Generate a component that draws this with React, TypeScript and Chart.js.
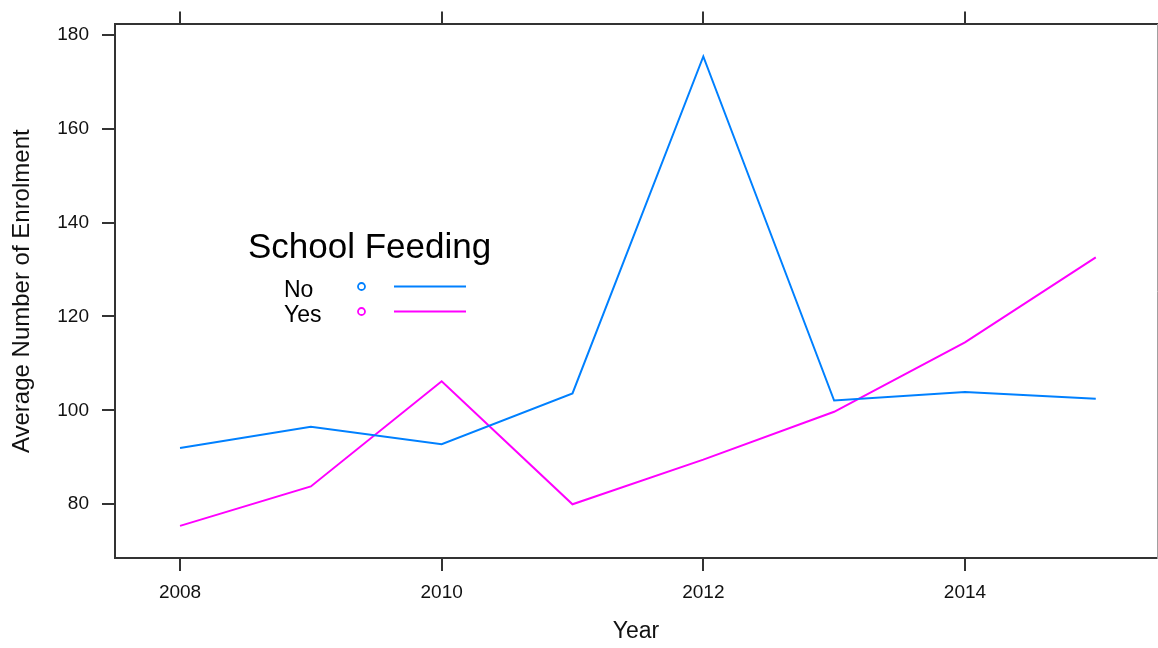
import React, { useEffect, useRef } from "react";
import { Chart, registerables } from "chart.js";

Chart.register(...registerables);

const years = [2008, 2009, 2010, 2011, 2012, 2013, 2014, 2015];
const noValues = [92.0, 96.5, 92.8, 103.6, 175.4, 102.1, 103.9, 102.5];
const yesValues = [75.4, 83.8, 106.2, 80.0, 89.5, 99.7, 114.5, 132.6];
const seriesNames = ["No", "Yes"];
const seriesColors = ["#0080ff", "#ff00ff"];
const xTickValues = [2008, 2010, 2012, 2014];
const yTickValues = [80, 100, 120, 140, 160, 180];
const legendTitle = "School Feeding";
const xTitle = "Year";
const yTitle = "Average Number of Enrolment";

const FONT = "'Liberation Sans', Arial, sans-serif";
const AXIS_COLOR = "#333333";

const legendPlugin = {
  id: "latticeKey",
  afterDraw(chart: any) {
    const ctx = chart.ctx;
    ctx.save();
    ctx.fillStyle = "#000";
    ctx.textBaseline = "alphabetic";
    ctx.textAlign = "left";
    ctx.font = `35px ${FONT}`;
    ctx.fillText(legendTitle, 248, 258);
    const rows = [
      { y: 297, lineY: 286.5 },
      { y: 322, lineY: 311.5 },
    ];
    ctx.font = `23px ${FONT}`;
    chart.data.datasets.forEach((ds: any, i: number) => {
      const r = rows[i];
      ctx.fillStyle = "#000";
      ctx.fillText(ds.label, 284, r.y);
      ctx.strokeStyle = ds.borderColor;
      ctx.lineWidth = 1.8;
      ctx.beginPath();
      ctx.arc(361.5, r.lineY, 3.5, 0, Math.PI * 2);
      ctx.stroke();
      ctx.lineWidth = 2;
      ctx.beginPath();
      ctx.moveTo(394, r.lineY);
      ctx.lineTo(466, r.lineY);
      ctx.stroke();
    });
    ctx.restore();
  },
};

export default function App() {
  const ref = useRef<HTMLCanvasElement>(null);

  useEffect(() => {
    if (!ref.current) return;
    const setTicks = (vals: number[]) => (scale: any) => {
      scale.ticks = vals.map((v) => ({ value: v }));
    };
    const chart = new Chart(ref.current, {
      type: "line",
      data: {
        datasets: [
          {
            label: seriesNames[0],
            data: years.map((x, i) => ({ x, y: noValues[i] })),
            borderColor: seriesColors[0],
            backgroundColor: seriesColors[0],
            borderWidth: 2,
            pointRadius: 0,
            tension: 0,
          },
          {
            label: seriesNames[1],
            data: years.map((x, i) => ({ x, y: yesValues[i] })),
            borderColor: seriesColors[1],
            backgroundColor: seriesColors[1],
            borderWidth: 2,
            pointRadius: 0,
            tension: 0,
          },
        ],
      },
      options: {
        responsive: false,
        animation: false,
        layout: { padding: 0 },
        plugins: {
          legend: { display: false },
          tooltip: { enabled: false },
        },
        scales: {
          x: {
            type: "linear",
            position: "bottom",
            min: 2007.503,
            max: 2015.468,
            afterBuildTicks: setTicks(xTickValues),
            afterFit: (s: any) => {
              s.height = 90;
            },
            grid: {
              drawOnChartArea: false,
              drawTicks: true,
              tickLength: 13,
              tickColor: AXIS_COLOR,
              lineWidth: 2,
            },
            border: { display: true, color: AXIS_COLOR, width: 2 },
            ticks: {
              padding: 10,
              color: "#111",
              font: { family: FONT, size: 19 },
              maxRotation: 0,
              callback: (v: any) => String(v),
            },
            title: {
              display: true,
              text: xTitle,
              color: "#111",
              font: { family: FONT, size: 23 },
              padding: { top: 0, bottom: 3 },
            },
          },
          xTop: {
            type: "linear",
            position: "top",
            min: 2007.503,
            max: 2015.468,
            afterBuildTicks: setTicks(xTickValues),
            afterFit: (s: any) => {
              s.height = 21;
            },
            grid: {
              drawOnChartArea: false,
              drawTicks: true,
              tickLength: 13,
              tickColor: AXIS_COLOR,
              lineWidth: 2,
            },
            border: { display: true, color: AXIS_COLOR, width: 2 },
            ticks: { display: false },
          },
          y: {
            type: "linear",
            position: "left",
            min: 68.55,
            max: 182.23,
            afterBuildTicks: setTicks(yTickValues),
            afterFit: (s: any) => {
              s.width = 115;
            },
            grid: {
              drawOnChartArea: false,
              drawTicks: true,
              tickLength: 13,
              tickColor: AXIS_COLOR,
              lineWidth: 2,
            },
            border: { display: true, color: AXIS_COLOR, width: 2 },
            ticks: {
              padding: 13,
              color: "#111",
              font: { family: FONT, size: 19 },
              callback: (v: any) => String(v),
            },
            title: {
              display: true,
              text: yTitle,
              color: "#111",
              font: { family: FONT, size: 24 },
              padding: { top: 8, bottom: 0 },
            },
          },
          yRight: {
            type: "linear",
            position: "right",
            min: 68.55,
            max: 182.23,
            afterFit: (s: any) => {
              s.width = 1;
            },
            grid: { display: false, drawTicks: false },
            border: { display: true, color: "#a0a0a0", width: 1 },
            ticks: { display: false },
          },
        },
      },
      plugins: [legendPlugin],
    } as any);
    return () => chart.destroy();
  }, []);

  return (
    <div style={{ position: "absolute", left: 0, top: 0, width: 1158, height: 648, background: "#fff" }}>
      <canvas ref={ref} width={1158} height={648} style={{ display: "block" }} />
    </div>
  );
}
